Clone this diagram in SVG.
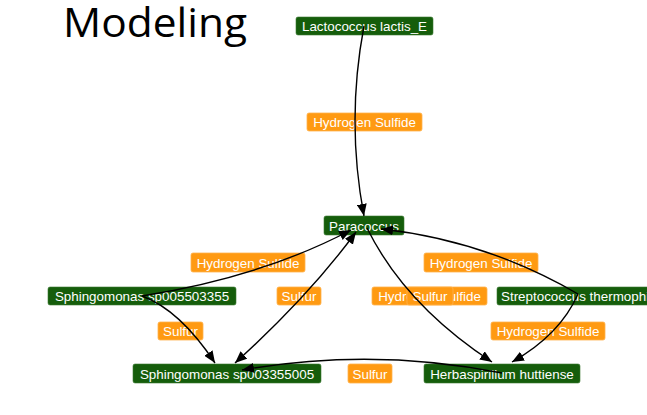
<svg xmlns="http://www.w3.org/2000/svg" width="647" height="415" viewBox="0 0 647 415">
<defs>
<marker id="arr" markerUnits="userSpaceOnUse" markerWidth="12" markerHeight="10" refX="12" refY="5" orient="auto-start-reverse">
<path d="M0,0 L12,5 L0,10 z" fill="#000"/>
</marker>
</defs>
<style>
.node rect{fill:#155d0b;stroke:#3c7a34;stroke-width:0.6}
.node text,.lbl text{font-family:"Liberation Sans",Arial,sans-serif;font-size:13.4px;fill:#fff;text-anchor:middle}
.lbl rect{fill:#ff9a12;stroke:#ffb24e;stroke-width:0.8}
.edge{fill:none;stroke:#000;stroke-width:1.4;marker-end:url(#arr)}
.title{font-family:"Open Sans","Liberation Sans",sans-serif;font-size:41px;fill:#000}
</style>
<rect width="647" height="415" fill="#fff"/>
<text class="title" x="63" y="37" textLength="184" lengthAdjust="spacingAndGlyphs">Modeling</text>

<g id="n-lactococcus" class="node"><rect x="296" y="17" width="137" height="18" rx="2"/><text x="364.5" y="31">Lactococcus lactis_E</text></g>
<g id="n-paracoccus" class="node"><rect x="324" y="216" width="80" height="19" rx="2"/><text x="364" y="230.5">Paracoccus</text></g>
<g id="n-sph0055" class="node"><rect x="48" y="287" width="188" height="18" rx="2"/><text x="142" y="301">Sphingomonas sp005503355</text></g>
<g id="n-strepto" class="node"><rect x="497" y="287" width="175" height="18" rx="2"/><text x="501" y="301" style="text-anchor:start">Streptococcus thermophilus</text></g>
<g id="n-sph0033" class="node"><rect x="133" y="364" width="188" height="19" rx="2"/><text x="227" y="378.5">Sphingomonas sp003355005</text></g>
<g id="n-herb" class="node"><rect x="424" y="364" width="156" height="19" rx="2"/><text x="502" y="378.5">Herbaspirillum huttiense</text></g>

<g id="labels">
<g class="lbl"><rect x="307" y="113" width="115" height="18" rx="2"/><text x="364.5" y="127">Hydrogen Sulfide</text></g>
<g class="lbl"><rect x="191" y="253" width="114" height="19" rx="2"/><text x="248" y="267.5">Hydrogen Sulfide</text></g>
<g class="lbl"><rect x="424" y="253" width="114" height="19" rx="2"/><text x="481" y="267.5">Hydrogen Sulfide</text></g>
<g class="lbl"><rect x="277" y="287" width="44" height="18" rx="2"/><text x="299" y="301">Sulfur</text></g>
<g class="lbl"><rect x="372" y="287" width="115" height="18" rx="2"/><text x="429.5" y="301">Hydrogen Sulfide</text></g>
<g class="lbl"><rect x="407" y="287" width="46" height="18" rx="2"/><text x="430" y="301">Sulfur</text></g>
<g class="lbl"><rect x="158" y="322" width="45" height="18" rx="2"/><text x="180.5" y="336">Sulfur</text></g>
<g class="lbl"><rect x="491" y="322" width="114" height="18" rx="2"/><text x="548" y="336">Hydrogen Sulfide</text></g>
<g class="lbl"><rect x="348" y="364" width="44" height="19" rx="2"/><text x="370" y="378.5">Sulfur</text></g>
</g>

<g id="connectors">
<path class="edge" d="M364,26 Q346,121 364,216"/>
<path class="edge" d="M142,296 Q262,277 351,230"/>
<path class="edge" d="M356,232 Q309,296 235,363" style="marker-start:url(#arr)"/>
<path class="edge" d="M142,296 Q180,310 215,363"/>
<path class="edge" d="M502,373 Q372,347 242,370"/>
<path class="edge" d="M578,294 Q485,240 381,229"/>
<path class="edge" d="M578,294 Q560,335 512,362"/>
<path class="edge" d="M367,228 Q405,305 492,362"/>
</g>
</svg>
